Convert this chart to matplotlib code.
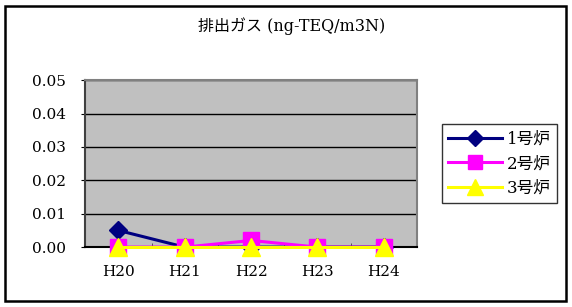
import numpy as np
import matplotlib.pyplot as plt
from matplotlib.patches import Rectangle

# データ
年度 = ['H20', 'H21', 'H22', 'H23', 'H24']
炉1 = [0.005, 0.0, 0.0, 0.0, 0.0]
炉2 = [0.0, 0.0, 0.002, 0.0, 0.0]
炉3 = [0.0, 0.0, 0.0, 0.0, 0.0]
凡例 = ['1号炉', '2号炉', '3号炉']

plt.rcParams['font.family'] = ['DejaVu Serif', 'Noto Sans CJK JP']

fig = plt.figure(figsize=(5.72, 3.07), dpi=100)
fig.patches.append(Rectangle((0.009, 0.02), 0.98, 0.962, transform=fig.transFigure,
                             fill=False, edgecolor='black', linewidth=1.8))

ax = fig.add_axes([0.149, 0.195, 0.580, 0.544])
ax.set_facecolor('#c0c0c0')
x = np.arange(len(年度))

ax.plot(x, 炉1, color='#000080', marker='D', markersize=9, linewidth=2.2, label=凡例[0], zorder=7, clip_on=False)
ax.plot(x, 炉2, color='#ff00ff', marker='s', markersize=12, linewidth=2.2, label=凡例[1], zorder=8, clip_on=False)
ax.plot(x, 炉3, color='#ffff00', marker='^', markersize=13, linewidth=2.2, label=凡例[2], zorder=9, clip_on=False)

ax.set_xlim(-0.5, 4.5)
ax.set_ylim(0, 0.05)
ax.set_yticks(np.arange(0, 0.051, 0.01))
ax.set_yticklabels([f'{v:.2f}' for v in np.arange(0, 0.051, 0.01)], fontsize=11)
ax.set_xticks(x)
ax.set_xticklabels(年度, fontsize=11)
ax.set_xticks(np.arange(-0.5, 4.6, 1), minor=True)
ax.tick_params(axis='x', which='major', length=0, pad=13)
ax.tick_params(axis='x', which='minor', direction='in', length=3, color='#404040')
ax.tick_params(axis='y', length=3, direction='out', pad=11)
ax.yaxis.grid(True, color='black', linewidth=1)
ax.set_axisbelow(True)
for s in ['top', 'right']:
    ax.spines[s].set_color('#808080')
    ax.spines[s].set_linewidth(1.5)
ax.spines['left'].set_color('#404040')
ax.spines['left'].set_linewidth(1.5)
ax.spines['bottom'].set_color('black')
ax.spines['bottom'].set_linewidth(1.5)
for sp in ax.spines.values():
    sp.set_zorder(6)

fig.text(0.509, 0.915, '排出ガス (ng-TEQ/m3N)', ha='center', va='center', fontsize=11.5)

leg = fig.legend(loc='center', bbox_to_anchor=(0.873, 0.467), fontsize=12, frameon=True,
                 fancybox=False, edgecolor='black', handlelength=3.2, borderpad=0.4,
                 labelspacing=0.45, handletextpad=0.3, markerscale=0.85)
leg.get_frame().set_linewidth(1)

fig.savefig('out.png', dpi=100)
